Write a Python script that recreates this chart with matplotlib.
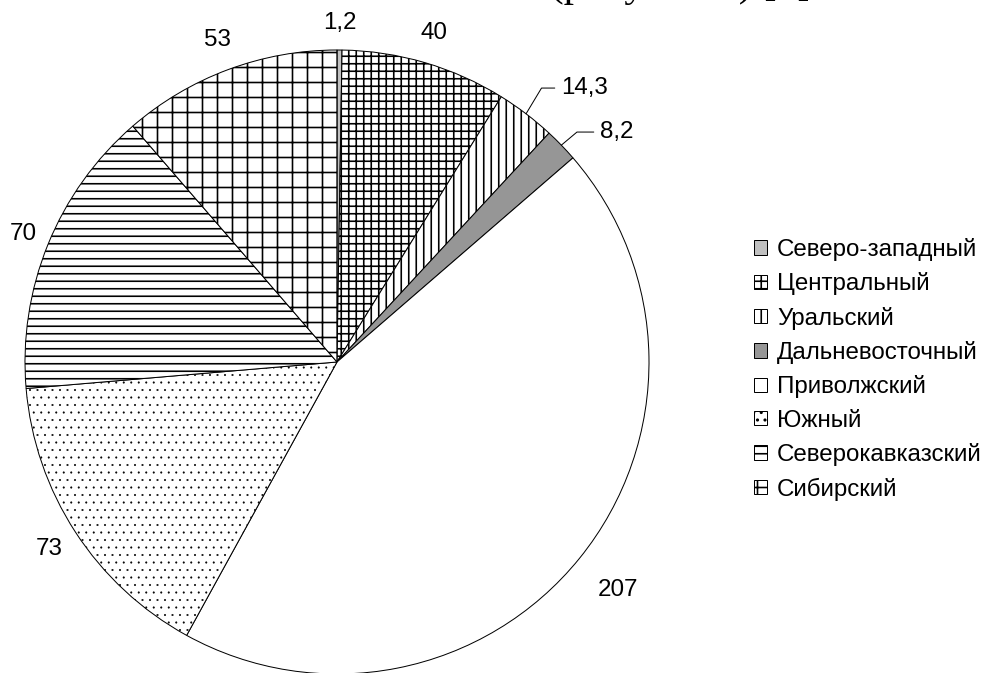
import numpy as np
import matplotlib.pyplot as plt

# -------------------------------------------
# Data
# -------------------------------------------

regions = ['Северо-западный', 'Центральный', 'Уральский', 'Дальневосточный',
           'Приволжский', 'Южный', 'Северокавказский', 'Сибирский']
values = [1.2, 40, 14.3, 8.2, 207, 73, 70, 53]
value_labels = ['1,2', '40', '14,3', '8,2', '207', '73', '70', '53']

# Fill and hatch for each sector (black and white print style)
face_colors = ['#c0c0c0', 'white', 'white', '#969696', 'white', 'white', 'white', 'white']
hatches = ['', '++', '||', '', '', '..', '--', '+']
hatch_widths = [1.3, 1.3, 1.3, 1.3, 1.3, 0.4, 1.3, 1.3]

# Distance of each value label from the centre (in radii)
label_dist = [1.087, 1.10, None, None, 1.16, 1.10, 1.087, 1.10]
# Labels drawn with a leader line: text position in data coordinates
leader_text = {2: (0.718, 0.878), 3: (0.843, 0.737)}
leader_angle = {2: 59, 3: 40}

DPI = 90
W, H = 983, 673
FS = 19.3

plt.rcParams['font.family'] = ['Liberation Sans', 'DejaVu Sans']
plt.rcParams['hatch.linewidth'] = 1.3

fig = plt.figure(figsize=(W / DPI, H / DPI), dpi=DPI)
ax = fig.add_axes([25 / W, -1 / H, 624 / W, 624 / H])

wedges, _ = ax.pie(values, startangle=90, counterclock=False, radius=1,
                   colors=face_colors,
                   wedgeprops=dict(edgecolor='black', linewidth=0.8))
for w, h, hw in zip(wedges, hatches, hatch_widths):
    w.set_hatch(h)
    if hasattr(w, 'set_hatch_linewidth'):
        w.set_hatch_linewidth(hw)

ax.set_xlim(-1, 1)
ax.set_ylim(-1, 1)
ax.set_aspect('equal')
ax.axis('off')

# value labels
for i, w in enumerate(wedges):
    mid = np.deg2rad((w.theta1 + w.theta2) / 2)
    if i in leader_text:
        ax.annotate(value_labels[i], xy=(np.cos(mid), np.sin(mid)),
                    xytext=leader_text[i], ha='left', va='center', fontsize=FS,
                    arrowprops=dict(arrowstyle='-', color='black', lw=0.8,
                                    shrinkA=3, shrinkB=0,
                                    connectionstyle=f'angle,angleA=0,angleB={leader_angle[i]},rad=0'))
    else:
        r = label_dist[i]
        ax.text(r * np.cos(mid), r * np.sin(mid), value_labels[i],
                ha='center', va='center', fontsize=FS)

fig.legend(wedges, regions, loc='upper left',
           bbox_to_anchor=(754 / W, 1 - 238 / H), bbox_transform=fig.transFigure,
           frameon=False, fontsize=FS, borderpad=0, borderaxespad=0,
           handlelength=0.54, handleheight=0.54, handletextpad=0.42,
           labelspacing=0.47)

# caption line of the surrounding page, cut at the top edge
fig.text(550 / W, 1 + 4 / H, '(рисунок 1) [1]', ha='left', va='baseline',
         fontsize=33, family=['Liberation Serif', 'DejaVu Serif'])

fig.savefig('out.png', dpi=DPI)
